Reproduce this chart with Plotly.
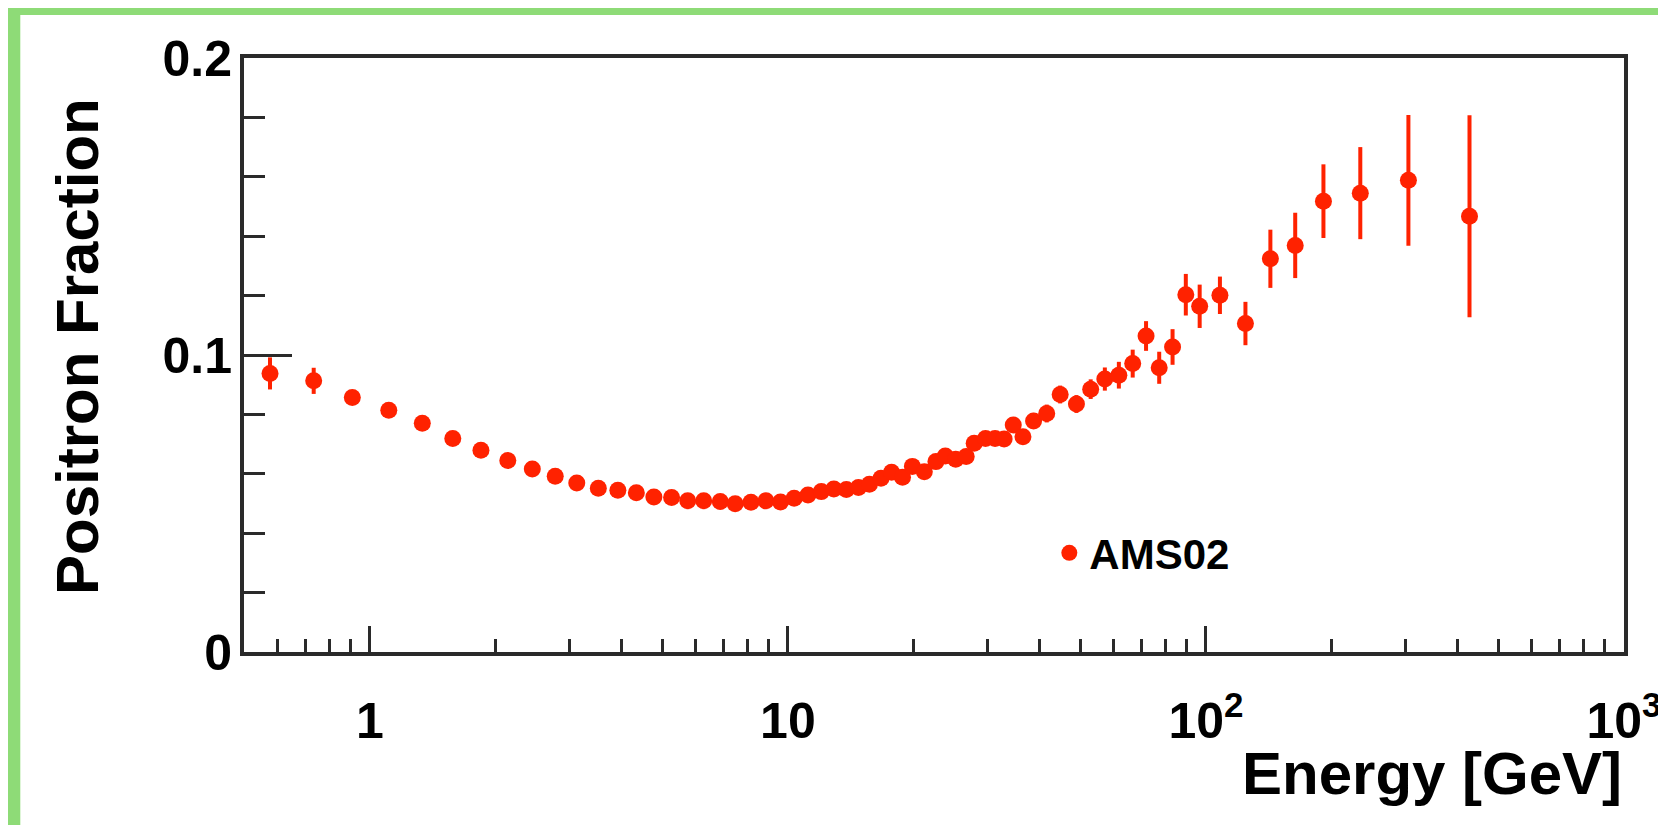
import plotly.graph_objects as go

# ---- data ----
energy_gev = [0.577, 0.734, 0.908, 1.11, 1.335, 1.579, 1.844, 2.138, 2.447, 2.776,
              3.126, 3.52, 3.92, 4.34, 4.78, 5.27, 5.76, 6.29, 6.89, 7.48,
              8.16, 8.86, 9.6, 10.35, 11.17, 12.02, 12.88, 13.8, 14.75, 15.67,
              16.7, 17.7, 18.8, 19.85, 21.2, 22.6, 23.8, 25.2, 26.7, 27.9,
              29.7, 31.3, 32.9, 34.6, 36.5, 38.7, 41.6, 44.8, 49.0, 53.0,
              57.3, 61.9, 66.8, 71.9, 77.3, 83.2, 89.5, 96.6, 108.0, 124.3,
              142.6, 163.5, 191.0, 234.0, 305.0, 427.0]
positron_fraction = [0.0938, 0.0913, 0.0857, 0.0814, 0.0770, 0.0719, 0.0679, 0.0645, 0.0616, 0.0592,
                     0.0569, 0.0551, 0.0545, 0.0536, 0.0522, 0.0520, 0.0509, 0.0509, 0.0507, 0.0499,
                     0.0504, 0.0509, 0.0505, 0.0518, 0.0529, 0.0540, 0.0549, 0.0547, 0.0554, 0.0565,
                     0.0585, 0.0605, 0.0588, 0.0625, 0.0607, 0.0641, 0.0660, 0.0649, 0.0658, 0.0703,
                     0.0719, 0.0719, 0.0717, 0.0764, 0.0725, 0.0778, 0.0803, 0.0867, 0.0835, 0.0885,
                     0.0919, 0.0932, 0.0971, 0.1064, 0.0957, 0.1027, 0.1203, 0.1164, 0.1201, 0.1106,
                     0.1324, 0.1369, 0.1518, 0.1545, 0.1588, 0.1467]
fraction_error = [0.0054, 0.0044, 0.0015, 0.0015, 0.0015, 0.0015, 0.0015, 0.0015, 0.0015, 0.0015,
                  0.0015, 0.0015, 0.0015, 0.0015, 0.0015, 0.0015, 0.0015, 0.0015, 0.0015, 0.0015,
                  0.0015, 0.0015, 0.0015, 0.0015, 0.0015, 0.0015, 0.0015, 0.0015, 0.0015, 0.0015,
                  0.0018, 0.0018, 0.0018, 0.0018, 0.0018, 0.0018, 0.0018, 0.0018, 0.0020, 0.0020,
                  0.0020, 0.0022, 0.0022, 0.0025, 0.0025, 0.0027, 0.0030, 0.0030, 0.0030, 0.0033,
                  0.0039, 0.0045, 0.0047, 0.0050, 0.0054, 0.0060, 0.0070, 0.0073, 0.0063, 0.0073,
                  0.0098, 0.0110, 0.0124, 0.0155, 0.0220, 0.0340]

x_tick_vals = [1, 10, 100, 1000]
x_tick_text = ["1", "10", "10<sup>2</sup>", "10<sup>3</sup>"]
x_minor_vals = [0.6, 0.7, 0.8, 0.9, 2, 3, 4, 5, 6, 7, 8, 9,
                20, 30, 40, 50, 60, 70, 80, 90, 200, 300, 400, 500, 600, 700, 800, 900]
y_tick_vals = [0, 0.1, 0.2]
y_tick_text = ["0", "0.1", "0.2"]
y_minor_vals = [0.02, 0.04, 0.06, 0.08, 0.12, 0.14, 0.16, 0.18]

RED = "#ff2200"
AXIS = "#2a2a2a"
FONT = "Liberation Sans, Arial, Helvetica, sans-serif"

fig = go.Figure()
fig.add_trace(go.Scatter(
    x=energy_gev, y=positron_fraction, mode="markers", name="AMS02",
    marker=dict(color=RED, size=17, line=dict(width=0)),
    error_y=dict(type="data", array=fraction_error, visible=True,
                 color=RED, thickness=4, width=0),
))

W, H = 1666, 825
L, R, T, B = 236, 42, 50, 181
pw, ph = W - L - R, H - T - B

fig.update_layout(
    width=W, height=H,
    margin=dict(l=L, r=R, t=T, b=B, pad=0),
    paper_bgcolor="#8edb77",
    plot_bgcolor="white",
    showlegend=True,
    legend=dict(x=(1046 - L) / pw, y=(644 - 545) / ph, xanchor="left", yanchor="middle",
                bgcolor="rgba(0,0,0,0)", borderwidth=0,
                font=dict(family=FONT, size=42, color="black", weight="bold")),
    font=dict(family=FONT, color="black"),
    shapes=[dict(type="rect", xref="paper", yref="paper", layer="below",
                 x0=(11 - L) / pw, x1=(W + 5 - L) / pw,
                 y0=(644 - (H + 5)) / ph, y1=(644 - 7) / ph,
                 fillcolor="white", line=dict(width=0))],
    annotations=[
        dict(text="Energy [GeV]", xref="paper", yref="paper", x=1.0, y=(644 - 765) / ph,
             xanchor="right", yanchor="middle", showarrow=False,
             font=dict(family=FONT, size=60, color="black", weight="bold")),
        dict(text="Positron Fraction", xref="paper", yref="paper", x=(68 - L) / pw,
             y=(644 - 338) / ph, xanchor="center", yanchor="middle", textangle=-90,
             showarrow=False,
             font=dict(family=FONT, size=60, color="black", weight="bold")),
    ],
)

fig.update_xaxes(
    type="log", range=[-0.30103, 3], showgrid=False, zeroline=False,
    showline=True, linecolor=AXIS, linewidth=4, mirror=True,
    ticks="inside", ticklen=26, tickwidth=2.5, tickcolor=AXIS,
    tickvals=x_tick_vals, ticktext=x_tick_text,
    tickfont=dict(family=FONT, size=50, color="black", weight="bold"),
    ticklabelstandoff=22,
    minor=dict(tickvals=x_minor_vals, ticks="inside", ticklen=13, tickwidth=2.5,
               tickcolor=AXIS, showgrid=False),
)
fig.update_yaxes(
    range=[0, 0.2], showgrid=False, zeroline=False,
    showline=True, linecolor=AXIS, linewidth=4, mirror=True,
    ticks="inside", ticklen=48, tickwidth=2.5, tickcolor=AXIS,
    tickvals=y_tick_vals, ticktext=y_tick_text,
    tickfont=dict(family=FONT, size=50, color="black", weight="bold"),
    ticklabelstandoff=-2,
    minor=dict(tickvals=y_minor_vals, ticks="inside", ticklen=21, tickwidth=2.5,
               tickcolor=AXIS, showgrid=False),
)

fig.write_html("out.html")
